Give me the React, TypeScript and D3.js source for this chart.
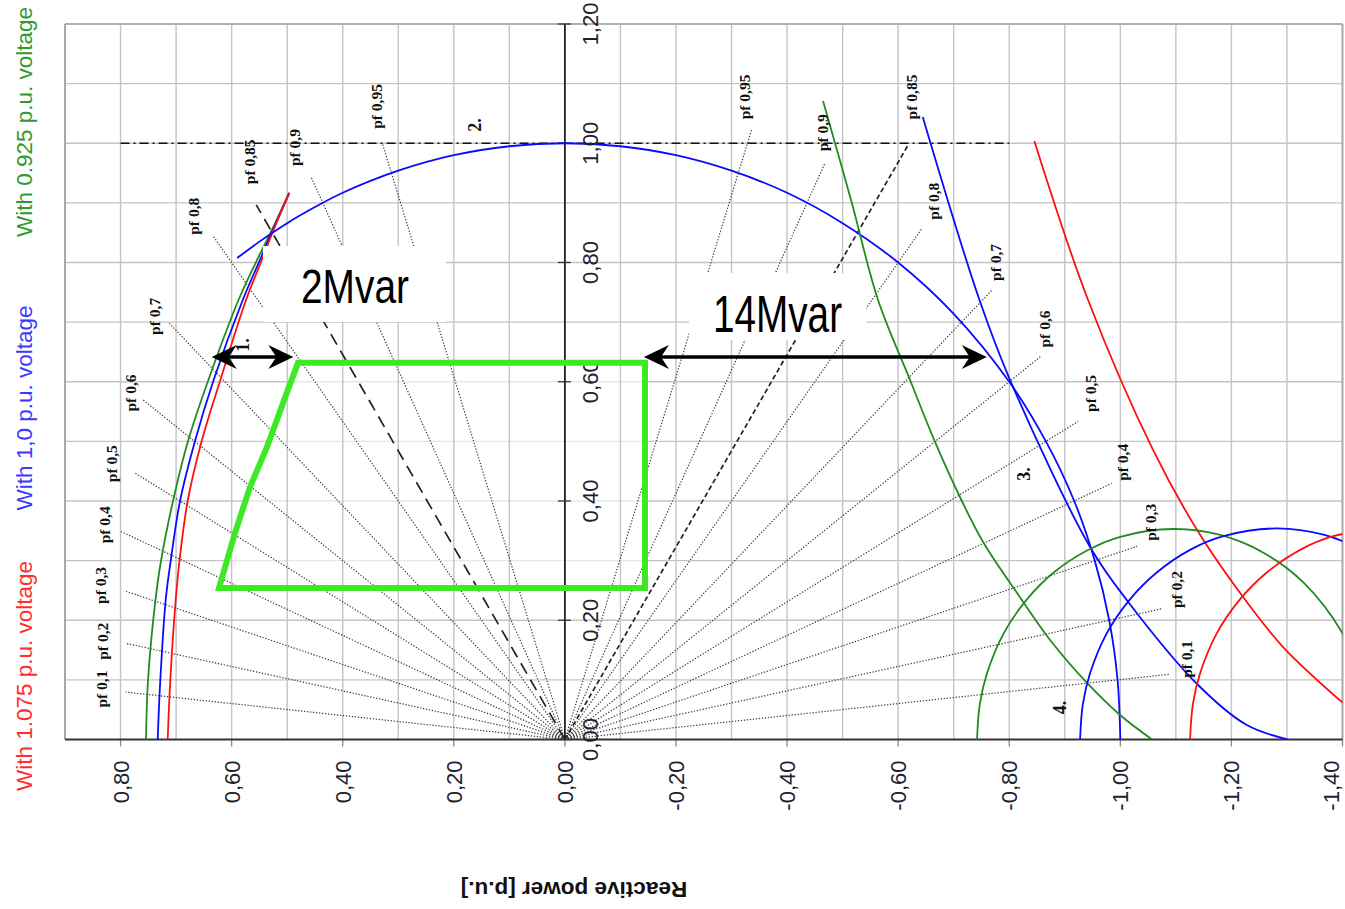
import React from "react";
import * as d3 from "d3";

type Pt = [number, number]; // [reactive power q, active power p] in p.u.

const WIDTH = 1345;
const HEIGHT = 909;

// Axis extents (q grows to the left: overexcited side)
const qExtent: [number, number] = [0.9, -1.4];
const pExtent: [number, number] = [0, 1.2];
const qTickValues = [0.8, 0.6, 0.4, 0.2, 0, -0.2, -0.4, -0.6, -0.8, -1.0, -1.2, -1.4];
const pTickValues = [0, 0.2, 0.4, 0.6, 0.8, 1.0, 1.2];

// Power-factor guide rays
const pfLevels = [0.1, 0.2, 0.3, 0.4, 0.5, 0.6, 0.7, 0.8, 0.85, 0.9, 0.95];
const pfDashed = 0.85;
const reachOver = [0.795, 0.807, 0.828, 0.875, 0.895, 0.949, 0.997, 1.055, 1.055, 1.049, 1.053];
const reachUnder = [1.094, 1.098, 1.08, 1.074, 1.067, 1.072, 1.076, 1.072, 1.176, 1.074, 1.077];

// Rated active power line
const ratedP = 1.0;
const ratedPSpan: [number, number] = [0.8, -0.8];

// Stator current limit (1.0 p.u. apparent power)
const statorLimit: Pt[] = [
  [0.590, 0.8075], [0.55, 0.835], [0.5, 0.866], [0.45, 0.893], [0.4, 0.917],
  [0.3, 0.954], [0.2, 0.98], [0.1, 0.995], [0, 1.0], [-0.1, 0.995], [-0.2, 0.98],
  [-0.3, 0.954], [-0.4, 0.917], [-0.5, 0.866], [-0.6, 0.8], [-0.7, 0.714],
  [-0.8, 0.6], [-0.866, 0.5], [-0.917, 0.4], [-0.954, 0.3], [-0.98, 0.2],
  [-0.995, 0.1], [-1.0, 0.0],
];

// Rotor (field current) limits
const rotorLimit0925: Pt[] = [
  [0.7542, 0], [0.7505, 0.0998], [0.7371, 0.234], [0.7272, 0.2994], [0.7055, 0.4],
  [0.6785, 0.5006], [0.6425, 0.6013], [0.5876, 0.7371], [0.5561, 0.8008],
  [0.5291, 0.8512], [0.4967, 0.9166],
];
const rotorLimit100: Pt[] = [
  [0.7331, 0], [0.7284, 0.0998], [0.7187, 0.234], [0.7097, 0.2994], [0.6929, 0.4],
  [0.6659, 0.5006], [0.633, 0.6013], [0.58, 0.7371], [0.5507, 0.8008],
  [0.5273, 0.8512], [0.4967, 0.9149],
];
const rotorLimit1075: Pt[] = [
  [0.7151, 0], [0.7104, 0.0998], [0.7007, 0.234], [0.6939, 0.2994], [0.6791, 0.4],
  [0.6539, 0.5006], [0.6209, 0.6013], [0.5741, 0.7371], [0.5471, 0.8008],
  [0.526, 0.8512], [0.4962, 0.9171],
];

// Underexcited stability limits
const stabilityLimit0925: Pt[] = [
  [-0.4648, 1.0709], [-0.5152, 0.9048], [-0.5638, 0.7371], [-0.6214, 0.6029],
  [-0.6664, 0.499], [-0.7078, 0.4134], [-0.7529, 0.3312], [-0.8141, 0.2457],
  [-0.8735, 0.1669], [-0.9401, 0.0948], [-0.9995, 0.0411], [-1.0571, 0],
];
const stabilityLimit100: Pt[] = [
  [-0.6443, 1.044], [-0.7444, 0.7426], [-0.8015, 0.6029], [-0.9455, 0.3229],
  [-1.0139, 0.2311], [-1.14, 0.0914], [-1.2277, 0.0243], [-1.302, 0],
];
const stabilityLimit1075: Pt[] = [
  [-0.8452, 1.0038], [-0.9419, 0.7371], [-1.0589, 0.4856], [-1.1382, 0.3514],
  [-1.221, 0.239], [-1.293, 0.1551], [-1.401, 0.0612],
];

// Minimum excitation limits
const minExcitation0925: Pt[] = [
  [-0.742, 0], [-0.747, 0.059], [-0.76, 0.111], [-0.79, 0.178], [-0.83, 0.233],
  [-0.88, 0.28], [-0.94, 0.317], [-1.0, 0.34], [-1.095, 0.353], [-1.18, 0.343],
  [-1.26, 0.312], [-1.33, 0.263], [-1.4, 0.178], [-1.43, 0.111],
];
const minExcitation100: Pt[] = [
  [-0.9275, 0], [-0.9325, 0.059], [-0.9455, 0.111], [-0.9755, 0.178],
  [-1.0155, 0.233], [-1.0655, 0.28], [-1.1255, 0.318], [-1.1855, 0.341],
  [-1.2815, 0.354], [-1.3675, 0.343], [-1.4475, 0.313],
];
const minExcitation1075: Pt[] = [
  [-1.1256, 0], [-1.1306, 0.059], [-1.1436, 0.111], [-1.1736, 0.178],
  [-1.2136, 0.233], [-1.2636, 0.28], [-1.3236, 0.318], [-1.3836, 0.341],
  [-1.4796, 0.354],
];

// Required operating area
const operatingArea: Pt[] = [
  [0.4805, 0.6317], [-0.1443, 0.6317], [-0.1443, 0.2541], [0.6227, 0.2541],
  [0.594, 0.3463], [0.5669, 0.4235], [0.5363, 0.4906], [0.5075, 0.5644],
];

// Reactive power margins
const arrowLevel = 0.6415;
const marginOver: [number, number] = [0.6359, 0.4889];
const marginUnder: [number, number] = [-0.1423, -0.7595];

const callouts = [
  { text: "2Mvar", q: 0.4751, p: 0.7321, size: 49, len: 108, box: [[0.5435, 0.8277], [0.214, 0.7002]] as Pt[] },
  { text: "14Mvar", q: -0.2667, p: 0.6834, size: 51, len: 129, box: [[-0.2235, 0.7824], [-0.5422, 0.67]] as Pt[] },
];

const curveTags = [
  { text: "1.", q: 0.5804, p: 0.6616 },
  { text: "2.", q: 0.1618, p: 1.0306 },
  { text: "3.", q: -0.8258, p: 0.4453 },
  { text: "4.", q: -0.8906, p: 0.0537 },
];

const legend = [
  { text: "With 0.925 p.u. voltage", color: "#2e9b2e", cy: 122 },
  { text: "With 1,0 p.u. voltage", color: "#3a3aff", cy: 408 },
  { text: "With 1.075 p.u. voltage", color: "#ff2e2e", cy: 676 },
];

// pixel nudges of the pf captions from the ray ends
const nudgeOver: Pt[] = [[-24, -3], [-23, -2], [-26, -6], [-15, -6], [-23, -9], [-13, -7], [-15, -7], [-19.5, -20], [-7, -43], [-16.5, -29], [-5.7, -36.6]];
const nudgeUnder: Pt[] = [[17.5, -15], [14, -19], [13.5, -24], [11, -21], [12, -28], [3, -27], [4, -28], [11, -27], [3, -46.5], [-2.5, -30.5], [-7, -32.5]];

const GREEN = "#228b22";
const BLUE = "#0a0aff";
const RED = "#ff1010";
const SANS = "'Liberation Sans', Arial, Helvetica, sans-serif";
const SERIF = "'Liberation Serif', 'Times New Roman', serif";

const fmt = (v: number) => (v < -1e-9 ? "-" : "") + Math.abs(v).toFixed(2).replace(".", ",");
const fmtPf = (v: number) => "pf " + String(v).replace(".", ",");

export default function App() {
  const left = 65, right = 1342.5, top = 24, bottom = 739.5;
  const x = d3.scaleLinear().domain(qExtent).range([left, right]);
  const y = d3.scaleLinear().domain(pExtent).range([bottom, top]);

  const smooth = d3.line<Pt>().x((d) => x(d[0])).y((d) => y(d[1])).curve(d3.curveCatmullRom.alpha(0.5));
  const straight = d3.line<Pt>().x((d) => x(d[0])).y((d) => y(d[1]));

  const qGrid = d3.range(-13, 9).map((i) => i / 10);
  const pGrid = d3.range(1, 12).map((i) => i / 10);

  const x0 = x(0), y0 = y(0);

  const rays = pfLevels.flatMap((pf, i) => {
    const s = Math.sqrt(1 - pf * pf);
    const over: Pt = [reachOver[i] * s, reachOver[i] * pf];
    const under: Pt = [-reachUnder[i] * s, reachUnder[i] * pf];
    return [
      { pf, end: over, nudge: nudgeOver[i], key: "o" + pf },
      { pf, end: under, nudge: nudgeUnder[i], key: "u" + pf },
    ];
  });

  const arrowHead = (tipX: number, tipY: number, dir: number) => {
    const L = 25, hw = 12, notch = 8;
    return `M${tipX},${tipY} L${tipX + dir * L},${tipY - hw} L${tipX + dir * (L - notch)},${tipY} L${tipX + dir * L},${tipY + hw} Z`;
  };
  const arrow = (span: [number, number], k: string) => {
    const xa = x(span[0]), xb = x(span[1]), ya = y(arrowLevel);
    return (
      <g key={k}>
        <line x1={xa + 6} x2={xb - 6} y1={ya} y2={ya} stroke="#000" strokeWidth={3.4} />
        <path d={arrowHead(xa, ya, 1)} fill="#000" />
        <path d={arrowHead(xb, ya, -1)} fill="#000" />
      </g>
    );
  };

  const curves: { d: Pt[]; c: string }[] = [
    { d: rotorLimit0925, c: GREEN },
    { d: rotorLimit100, c: BLUE },
    { d: rotorLimit1075, c: RED },
    { d: statorLimit, c: BLUE },
    { d: stabilityLimit0925, c: GREEN },
    { d: stabilityLimit100, c: BLUE },
    { d: stabilityLimit1075, c: RED },
    { d: minExcitation0925, c: GREEN },
    { d: minExcitation100, c: BLUE },
    { d: minExcitation1075, c: RED },
  ];

  return (
    <svg width={WIDTH} height={HEIGHT} style={{ position: "absolute", left: 0, top: 0, background: "#fff" }}>
      <defs>
        <clipPath id="plot-clip">
          <rect x={left} y={top} width={right - left} height={bottom - top} />
        </clipPath>
      </defs>

      {/* horizontal grid */}
      {pGrid.map((p) => (
        <line key={"hg" + p} x1={left} x2={right} y1={y(p)} y2={y(p)} stroke="#c4c4c4" strokeWidth={1.4} />
      ))}
      {/* softened interior of the operating area */}
      <path d={straight(operatingArea) + "Z"} fill="#fff" fillOpacity={0.6} />
      {/* vertical grid */}
      {qGrid.map((q) => (
        <line key={"vg" + q} x1={x(q)} x2={x(q)} y1={top} y2={bottom} stroke="#c4c4c4" strokeWidth={1.4} />
      ))}
      {/* frame */}
      <line x1={left} x2={right} y1={top} y2={top} stroke="#b0b0b0" strokeWidth={2.2} />
      <line x1={left} x2={left} y1={top} y2={bottom} stroke="#a8a8a8" strokeWidth={2} />
      <line x1={right} x2={right} y1={top} y2={bottom} stroke="#a8a8a8" strokeWidth={2} />

      {/* power factor rays */}
      <g clipPath="url(#plot-clip)">
        {rays.map((r) => {
          const dashed = r.pf === pfDashed;
          const over = r.end[0] > 0;
          return (
            <line
              key={r.key}
              x1={x0}
              y1={y0}
              x2={x(r.end[0])}
              y2={y(r.end[1])}
              stroke={dashed ? "#222" : "#3a3a3a"}
              strokeWidth={dashed ? 1.7 : 1.2}
              strokeDasharray={dashed ? (over ? "12,7" : "5,3") : "1.3,1.7"}
            />
          );
        })}
        {/* rated active power */}
        <line
          x1={x(ratedPSpan[0])}
          x2={x(ratedPSpan[1])}
          y1={y(ratedP)}
          y2={y(ratedP)}
          stroke="#111"
          strokeWidth={1.6}
          strokeDasharray="9,4,2,4"
        />
      </g>

      {/* axes */}
      <line x1={x0} x2={x0} y1={top} y2={bottom} stroke="#000" strokeWidth={1.5} />
      {pTickValues.map((p) => (
        <line key={"pt" + p} x1={x0 - 7} x2={x0 + 6} y1={y(p)} y2={y(p)} stroke="#333" strokeWidth={1.3} />
      ))}
      {qTickValues.map((q) => (
        <line key={"qt" + q} x1={x(q)} x2={x(q)} y1={bottom} y2={bottom + 7} stroke="#888" strokeWidth={1.3} />
      ))}
      <line x1={left} x2={right} y1={bottom} y2={bottom} stroke="#333" strokeWidth={2.2} />

      {/* capability limits */}
      <g clipPath="url(#plot-clip)" fill="none" strokeWidth={1.8}>
        {curves.map((c, i) => (
          <path key={"c" + i} d={smooth(c.d) || ""} stroke={c.c} />
        ))}
      </g>

      {/* callout boxes */}
      {callouts.map((c) => {
        const bx = x(c.box[0][0]), by = y(c.box[0][1]);
        const bw = x(c.box[1][0]) - bx, bh = y(c.box[1][1]) - by;
        return (
          <g key={c.text}>
            <rect x={bx} y={by} width={bw} height={bh} fill="#fff" />
            <text
              x={x(c.q)}
              y={y(c.p)}
              fontFamily={"'Liberation Sans Narrow', 'Arial Narrow', " + SANS}
              fontSize={c.size}
              textLength={c.len}
              lengthAdjust="spacingAndGlyphs"
              fill="#000"
            >
              {c.text}
            </text>
          </g>
        );
      })}

      {/* tick labels */}
      {qTickValues.map((q) => (
        <text
          key={"ql" + q}
          transform={`translate(${Math.min(x(q) + 8, WIDTH - 6)},${bottom + 21}) rotate(-90)`}
          textAnchor="end"
          fontFamily={SANS}
          fontSize={22}
          fill="#1e2230"
        >
          {fmt(q)}
        </text>
      ))}
      {pTickValues.map((p) => (
        <text
          key={"pl" + p}
          transform={`translate(${x0 + 33},${y(p)}) rotate(-90)`}
          textAnchor="middle"
          fontFamily={SANS}
          fontSize={22}
          fill="#1e2230"
        >
          {fmt(p)}
        </text>
      ))}

      {/* pf captions */}
      {rays.map((r) => (
        <text
          key={"lbl" + r.key}
          transform={`translate(${x(r.end[0]) + r.nudge[0]},${y(r.end[1]) + r.nudge[1]}) rotate(-90)`}
          textAnchor="middle"
          dominantBaseline="central"
          fontFamily={SERIF}
          fontWeight="bold"
          fontSize={15.5}
          fill="#111"
        >
          {fmtPf(r.pf)}
        </text>
      ))}

      {/* curve numbers */}
      {curveTags.map((t) => (
        <text
          key={t.text}
          transform={`translate(${x(t.q)},${y(t.p)}) rotate(-90)`}
          textAnchor="middle"
          dominantBaseline="central"
          fontFamily={SERIF}
          fontWeight="bold"
          fontSize={18}
          fill="#111"
        >
          {t.text}
        </text>
      ))}

      {/* operating area and margins */}
      <path
        d={straight(operatingArea) + "Z"}
        fill="none"
        stroke="#3de825"
        strokeWidth={6}
        strokeLinejoin="miter"
      />
      {arrow(marginOver, "a1")}
      {arrow(marginUnder, "a2")}

      {/* voltage legend */}
      {legend.map((l) => (
        <text
          key={l.text}
          transform={`translate(32,${l.cy}) rotate(-90)`}
          textAnchor="middle"
          fontFamily={SANS}
          fontSize={22.5}
          fill={l.color}
        >
          {l.text}
        </text>
      ))}

      {/* axis title */}
      <text
        transform={`translate(574,882) rotate(180)`}
        textAnchor="middle"
        fontFamily={SANS}
        fontWeight="bold"
        fontSize={22.5}
        fill="#111"
      >
        Reactive power [p.u.]
      </text>
    </svg>
  );
}
